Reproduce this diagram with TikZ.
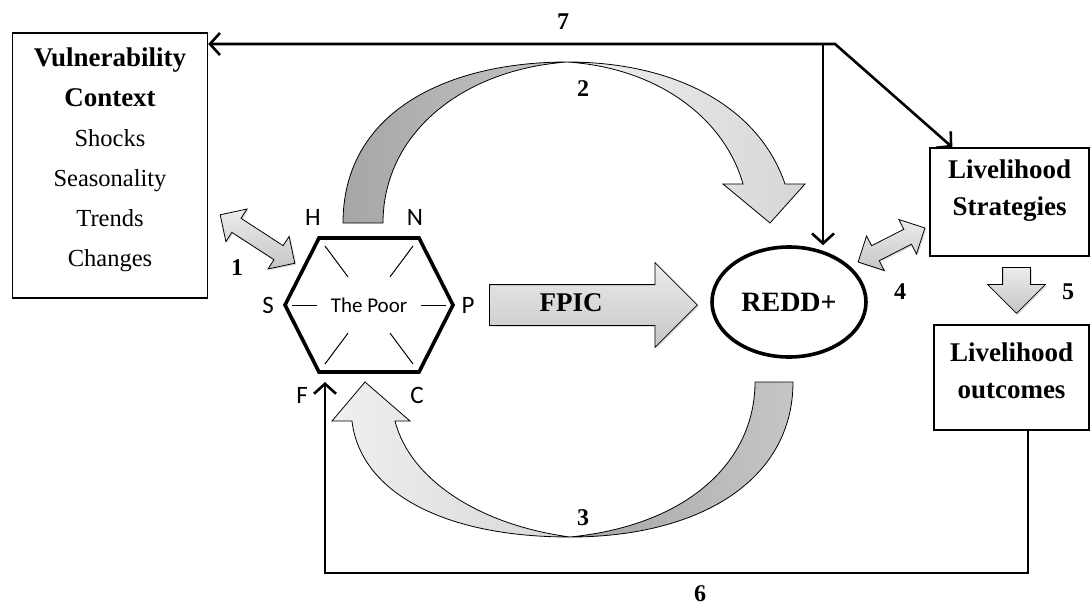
\documentclass[tikz,border=0pt]{standalone}
\usepackage{fontspec}
\setmainfont{Liberation Serif}
\newfontfamily\calfont{Carlito}
\usetikzlibrary{arrows.meta,shapes.arrows,shapes.geometric,shadows,calc}

\tikzset{
    box/.style={draw, line width=1.4pt, inner sep=0pt},
    head/.style={font=\fontsize{27}{37}\selectfont\bfseries, align=center},
    flow/.style={line width=2.6pt, -{Straight Barb[length=10pt,width=22pt]}},
    numlbl/.style={font=\fontsize{24}{24}\selectfont\bfseries},
    caplbl/.style={font=\calfont\fontsize{25}{25}\selectfont},
    blockarr/.style={draw, line width=0.8pt, inner xsep=0pt, top color=gray!15, bottom color=gray!45,
        drop shadow={opacity=.25, shadow xshift=1.5pt, shadow yshift=-1.5pt}},
    sglarr/.style={blockarr, single arrow, single arrow tip angle=90},
    dblarr/.style={blockarr, double arrow, double arrow tip angle=90, inner ysep=8pt,
        minimum width=38pt, double arrow head extend=11pt}
}
\tikzset{
    darkband/.style={draw, line width=0.8pt, left color=gray!70, right color=gray!45},
    lightband/.style={draw, line width=0.8pt, left color=gray!12, right color=gray!32}
}

\begin{document}
\begin{tikzpicture}[x=1pt, y=-1pt]
                \useasboundingbox (0,0) rectangle (1091,607);

                \node[box, minimum width=195pt, minimum height=265pt] (vuln) at (110,165.5) {};
                \node[align=center, font=\fontsize{24.5}{40}\selectfont] at (110,160)
                      {\fontsize{27}{38}\selectfont\bfseries Vulnerability\\
                       \fontsize{27}{38}\selectfont\bfseries Context\\
                       Shocks\\ Seasonality\\ Trends\\ Changes};
                \node[box, minimum width=159pt, minimum height=108pt] (strat) at (1009.5,202) {};
                \node[head] at ([yshift=11pt]strat.center) {Livelihood\\Strategies};
                \node[box, minimum width=155pt, minimum height=105pt] (outc) at (1011.5,377.5) {};
                \node[head] at ([yshift=7pt]outc.center) {Livelihood\\outcomes};

                \node[draw, ellipse, line width=3.6pt, minimum width=154pt, minimum height=110pt,
                      font=\fontsize{28}{28}\selectfont\bfseries] (redd) at (789,302) {REDD+};

                \coordinate (pH) at (319,238);
                \coordinate (pN) at (419,238);
                \coordinate (pP) at (453,305);
                \coordinate (pC) at (419,372);
                \coordinate (pF) at (319,372);
                \coordinate (pS) at (285,305);
                \coordinate (hc) at (369,305);
                \draw[line width=3.6pt, line join=miter] (pH) -- (pN) -- (pP) -- (pC) -- (pF) -- (pS) -- cycle;
                \foreach \v in {pH,pN,pC,pF}
                    \draw[line width=1pt] ($(hc)!0.88!(\v)$) -- ($(hc)!0.42!(\v)$);
                \foreach \v in {pS,pP}
                    \draw[line width=1pt] ($(hc)!0.92!(\v)$) -- ($(hc)!0.62!(\v)$);
                \node[font=\calfont\fontsize{21}{21}\selectfont] (poor) at (hc) {The Poor};
                \node[caplbl] at (313,217) {H};
                \node[caplbl] at (415,217) {N};
                \node[caplbl] at (268,305) {S};
                \node[caplbl] at (468,305) {P};
                \node[caplbl] at (302,395) {F};
                \node[caplbl] at (417,395) {C};

                \node[sglarr, inner ysep=20pt, minimum height=208pt, minimum width=84pt,
                      single arrow head extend=22pt, anchor=tail] (fpic) at (489,305) {};
                \node[font=\fontsize{27}{27}\selectfont\bfseries] at (571,303) {FPIC};
                \node[sglarr, rotate=-90, inner ysep=13.5pt, minimum height=46pt, minimum width=57pt,
                      single arrow head extend=15pt, anchor=tail] (step5) at (1016.5,267) {};
                \node[dblarr, rotate=-33, minimum height=89pt] (link1) at (257.5,239) {};
                \node[dblarr, rotate=27, minimum height=75pt] (link4) at (891.5,245) {};

                \draw[darkband] (343,223) -- (383,223) .. controls (383,135) and (460,70) .. (567,62)
                      .. controls (450,62) and (343,110) .. (343,223) -- cycle;
                \draw[lightband] (567,62) .. controls (680,62) and (760,110) .. (785,184) -- (805,184)
                      -- (770,223) -- (723,184) -- (743,184) .. controls (725,120) and (660,68) .. (567,62) -- cycle;

                \draw[darkband] (755,382) -- (793,382) .. controls (793,480) and (700,537) .. (570,537)
                      .. controls (690,525) and (755,460) .. (755,382) -- cycle;
                \draw[lightband] (570,537) .. controls (440,537) and (360,490) .. (352,421) -- (332,421)
                      -- (365,382) -- (410,421) -- (395,421) .. controls (410,480) and (480,525) .. (570,537) -- cycle;

                \coordinate (split) at (835,44);
                \coordinate (drop) at (823,44);
                \coordinate (fin) at (325,382);
                \draw[flow, {Straight Barb[length=10pt,width=22pt]}-{Straight Barb[length=10pt,width=22pt]}]
                      (vuln.east |- split) -- (split) -- ([xshift=23pt]strat.north west);
                \draw[flow] (drop) -- (drop |- redd.north);
                \draw[flow, line join=miter] ([xshift=16.5pt]outc.south) |- (fin |- 0,573) -- (fin);

                \node[numlbl] at (563,22) {7};
                \node[numlbl] at (583,89) {2};
                \node[numlbl] at (237,268) {1};
                \node[numlbl] at (583,518) {3};
                \node[numlbl] at (900,292) {4};
                \node[numlbl] at (1068,292) {5};
                \node[numlbl, anchor=base, inner sep=0pt] at (700,601) {6};
\end{tikzpicture}
\end{document}
